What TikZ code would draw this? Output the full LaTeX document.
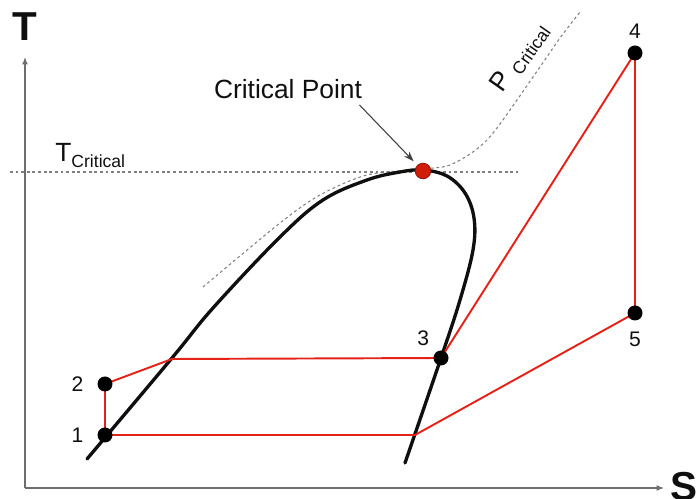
\documentclass[tikz,border=0pt]{standalone}
\usepackage{fontspec}
\setmainfont{Liberation Sans}
\usetikzlibrary{arrows.meta,positioning}
\definecolor{cyclered}{RGB}{228,34,24}
\definecolor{critred}{RGB}{208,30,8}
\definecolor{axisgray}{RGB}{110,110,110}
\definecolor{ink}{RGB}{15,15,15}
\tikzset{
  >={Latex[length=1.5mm,width=1.2mm]},
  axisline/.style={->,draw=axisgray,line width=0.7pt},
  axlabel/.style={font=\fontsize{23}{26}\selectfont\bfseries,text=ink},
  dome/.style={draw=ink,line width=1.9pt,line cap=round,line join=round},
  cyclepath/.style={draw=cyclered,line width=1.1pt,line join=round},
  guide/.style={draw=gray,line width=0.6pt,dash pattern=on 1.6pt off 1.6pt},
  dot/.style={circle,fill=black,inner sep=0pt,minimum size=3mm},
  num/.style={font=\fontsize{12}{14}\selectfont,text=ink,inner sep=1pt},
  crit/.style={circle,fill=critred,draw=critred!70!black,line width=0.5pt,
    inner sep=0pt,minimum size=3.1mm},
  tag/.style={font=\fontsize{15}{18}\selectfont,text=ink},
  pointer/.style={-{Stealth[length=2mm,width=1.4mm]},draw=ink!80,line width=0.6pt},
}

\begin{document}
\begin{tikzpicture}[x=0.2mm,y=-0.2mm]
  \useasboundingbox (0,0) rectangle (696,499);
  % axes
  \coordinate (o) at (25,488);
  \coordinate (tmax) at (25,57);
  \coordinate (smax) at (664,488);
  \draw[axisline] (o) -- (tmax);
  \draw[axisline] (o) -- (smax);
  \node[axlabel] (tlab) at (25,27) {T};
  \node[axlabel] (slab) at (684,487) {S};
  % critical isotherm and isobar
  \coordinate (tl) at (10,172);
  \coordinate (tr) at (518,172);
  \draw[guide] (tl) -- (tr);
  \draw[guide] plot[smooth] coordinates {(203,287) (280,223) (320,195) (367,175)
    (423,169) (447,166) (467,156) (484,143) (497,128) (517,100) (540,67)
    (560,38) (580,12)};
  \node[tag,anchor=base west,inner sep=0pt] (tcrit) at (55,162)
    {T\raisebox{-3pt}{\fontsize{10}{12}\selectfont Critical}};
  \node[tag,anchor=base west,inner sep=0pt,rotate=55] (pcrit) at (502,94)
    {P \raisebox{-3pt}{\fontsize{10}{12}\selectfont Critical}};
  % saturation dome
  \draw[dome] plot[smooth,tension=0.6] coordinates {(87,459) (172,358) (213,308)
    (280,237) (323,200) (367,180) (400,172) (423,170) (447,176) (465,193)
    (474,218) (473,250) (460,300) (441,358) (405,463)};
  % cycle
  \coordinate (p1) at (105,435);
  \coordinate (p2) at (105,384);
  \coordinate (liq) at (172,359);
  \coordinate (p3) at (441,358);
  \coordinate (p4) at (635,53);
  \coordinate (p5) at (635,313);
  \coordinate (vap) at (415,435);
  \draw[cyclepath] (p1) -- (p2) -- (liq) -- (p3) -- (p4) -- (p5) -- (vap) -- cycle;
  \node[dot,label={[num,label distance=6.7pt]left:1}] (n1) at (p1) {};
  \node[dot,label={[num,label distance=6.7pt]left:2}] (n2) at (p2) {};
  \node[dot,label={[num,label distance=3.5pt]above left:3}] (n3) at (p3) {};
  \node[dot,label={[num,label distance=2.3pt]above:4}] (n4) at (p4) {};
  \node[dot,label={[num,label distance=5.2pt]below:5}] (n5) at (p5) {};
  % critical point
  \node[crit] (cp) at (423,171) {};
  \node[tag] (cptext) at (288,89) {Critical Point};
  \draw[pointer,shorten >=3pt] ([xshift=-5pt]cptext.south east) -- (cp);
\end{tikzpicture}
\end{document}
